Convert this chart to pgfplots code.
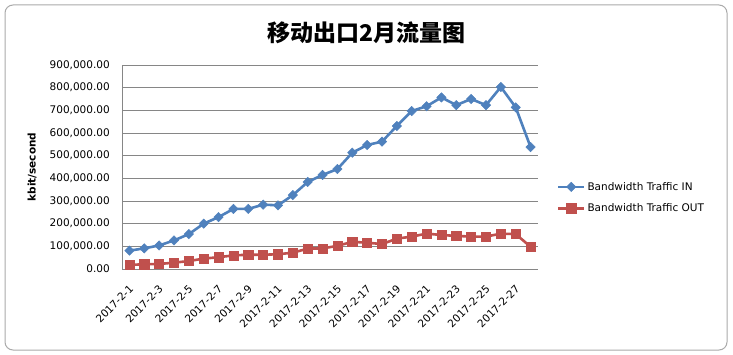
\documentclass[border=0pt]{standalone}
\usepackage{pgfplots}
\pgfplotsset{compat=1.18}
\usepackage{fontspec}
\setmainfont{DejaVu Sans}
\newfontfamily\cjk{Noto Sans CJK SC}
\definecolor{xlblue}{HTML}{4F81BD}
\definecolor{xlred}{HTML}{C0504D}
\definecolor{xlgrid}{HTML}{868686}
\begin{document}
\begin{tikzpicture}
\useasboundingbox (0,0) rectangle (733pt,354pt);
\fill[white] (0,0) rectangle (733pt,354pt);
\draw[draw=xlgrid!70, line width=1pt, rounded corners=8pt] (5pt,4pt) rectangle (727pt,349pt);
\node[font=\cjk\bfseries\fontsize{23}{26}\selectfont] at (366pt,321pt) {移动出口2月流量图};
\begin{axis}[
  at={(122pt,85pt)}, anchor=south west,
  scale only axis, width=416pt, height=204pt,
  xmin=-0.5, xmax=27.5, ymin=0, ymax=900000,
  ytick={0,100000,...,900000},
  xtick={0,2,...,26},
  xticklabels={2017-2-1,2017-2-3,2017-2-5,2017-2-7,2017-2-9,2017-2-11,2017-2-13,2017-2-15,2017-2-17,2017-2-19,2017-2-21,2017-2-23,2017-2-25,2017-2-27},
  scaled y ticks=false,
  /pgf/number format/.cd, fixed, fixed zerofill, precision=2, 1000 sep={,}, assume math mode=true, /pgfplots/.cd,
  axis x line*=bottom, axis y line*=left,
  axis line style={draw=xlgrid, line width=0.8pt},
  major tick length=0pt,
  ymajorgrids, grid style={draw=xlgrid, line width=0.8pt},
  tick label style={font=\fontsize{10.5}{12}\selectfont},
  yticklabel style={anchor=east, inner sep=0pt, xshift=-12pt},
  xticklabel style={inner sep=0pt, xshift=2pt, yshift=-18pt, rotate=45, anchor=east},
  ylabel={kbit/second},
  ylabel style={font=\bfseries\fontsize{10.5}{12}\selectfont, at={(axis description cs:-0.216,0.5)}, anchor=center, rotate=0},
  legend style={draw=none, fill=none, at={(axis description cs:1.045,0.35)}, anchor=west, font=\fontsize{10.5}{12}\selectfont, row sep=8pt, inner sep=0pt},
  legend cell align=left,
  legend image code/.code={\draw[#1, mark repeat=2, mark phase=2] plot coordinates {(0pt,0pt) (13pt,0pt) (26pt,0pt)};},
  clip=false,
]
\addplot[color=xlblue, line width=2.6pt, mark=square*, mark size=3.3pt, mark options={rotate=45, line width=0.5pt, solid}] coordinates {
(0,81000) (1,91000) (2,104000) (3,126000) (4,154000) (5,200000) (6,229000) (7,265000) (8,265000) (9,284000) (10,281000) (11,326000) (12,384000) (13,415000) (14,441000) (15,513000) (16,547000) (17,562000) (18,631000) (19,697000) (20,718000) (21,757000) (22,723000) (23,750000) (24,723000) (25,803000) (26,713000) (27,538000)
};
\addlegendentry{Bandwidth Traffic IN}
\addplot[color=xlred, line width=2.6pt, mark=square*, mark size=4.6pt, mark options={line width=0.5pt, solid}] coordinates {
(0,18000) (1,21000) (2,22000) (3,28000) (4,35000) (5,46000) (6,52000) (7,60000) (8,63000) (9,63000) (10,65000) (11,72000) (12,90000) (13,91000) (14,102000) (15,120000) (16,116000) (17,110000) (18,134000) (19,143000) (20,156000) (21,150000) (22,146000) (23,143000) (24,143000) (25,156000) (26,154000) (27,98000)
};
\addlegendentry{Bandwidth Traffic OUT}
\end{axis}
\end{tikzpicture}
\end{document}
